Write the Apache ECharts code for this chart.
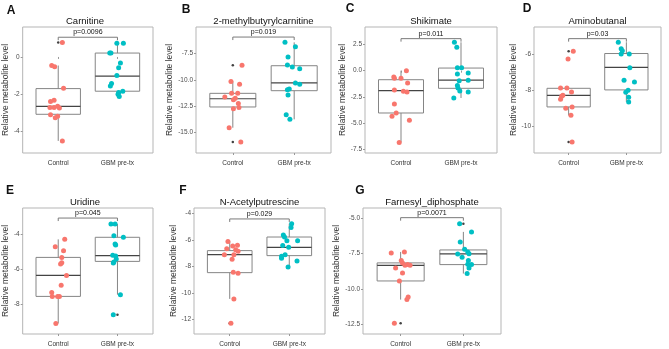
<!DOCTYPE html>
<html lang="en">
<head>
    <title>Relative metabolite levels</title>
    <meta charset="utf-8" />
    <script src="https://cdn.jsdelivr.net/npm/echarts@6/dist/echarts.min.js"></script>
    <style>
        body {
            margin: 0;
            background-color: #ffffff;
        }

        #main {
            width: 669px;
            height: 349px;
        }
    </style>
</head>
<body>
<div id="main"></div>
<script type="text/javascript">
    // data, one entry per panel (A..G)
    let groups = ['Control', 'GBM pre-tx']
    let letters = ['A', 'B', 'C', 'D', 'E', 'F', 'G']
    let titles = ['Carnitine', '2-methylbutyrylcarnitine', 'Shikimate', 'Aminobutanal',
        'Uridine', 'N-Acetylputrescine', 'Farnesyl_diphosphate']
    let pLabels = ['p=0.0096', 'p=0.019', 'p=0.011', 'p=0.03', 'p=0.045', 'p=0.029', 'p=0.0071']
    let bracketLevel = [1.06, -5.96, 3.05, -5.11, -3.04, -4.40, -4.98]

    let yTicks = [
        [0, -2, -4],
        [-7.5, -10, -12.5, -15],
        [2.5, 0, -2.5, -5, -7.5],
        [-6, -8, -10],
        [-4, -6, -8],
        [-4, -6, -8, -10, -12],
        [-5, -7.5, -10, -12.5]
    ]
    let yDecimals = [0, 1, 1, 0, 0, 0, 1]
    let yMin = [-5.16, -16.92, -7.84, -11.49, -9.73, -13.12, -13.16]
    let yMax = [1.61, -5.01, 4.16, -4.46, -2.46, -3.57, -4.30]

    let ctrlValues = [
        [0.78, -0.46, -0.53, -1.68, -2.39, -2.32, -2.71, -2.71, -2.65, -2.74, -3.10, -3.19, -3.27, -4.51],
        [-8.63, -10.15, -10.43, -11.28, -11.28, -11.63, -11.75, -11.88, -12.23, -12.61, -12.73, -14.53, -15.88],
        [0.0, -0.60, -0.73, -0.73, -1.17, -1.84, -1.97, -2.03, -3.17, -4.03, -4.35, -4.73, -6.83],
        [-5.81, -6.24, -7.86, -7.86, -8.08, -8.27, -8.33, -8.49, -9.00, -8.92, -9.39, -10.87],
        [-4.27, -4.69, -4.92, -5.31, -5.62, -5.69, -6.35, -6.92, -7.33, -7.56, -7.56, -7.56, -9.12],
        [-6.10, -6.45, -6.40, -6.65, -6.73, -6.85, -7.11, -7.11, -7.46, -8.44, -8.52, -10.46, -12.31],
        [-7.46, -7.39, -8.00, -8.16, -8.28, -8.33, -8.33, -8.52, -8.87, -9.43, -10.55, -10.74, -12.41]
    ]
    let ctrlJitter = [
        [0.07, -0.11, -0.06, 0.09, -0.13, -0.07, -0.14, -0.07, -0.01, 0.02, -0.13, -0.01, -0.05, 0.07],
        [0.15, -0.03, 0.11, -0.02, 0.08, -0.13, 0.04, 0.01, 0.09, 0.10, 0.01, -0.06, 0.13],
        [0.09, -0.12, -0.11, 0.00, 0.11, -0.11, 0.04, 0.10, -0.11, -0.08, -0.15, 0.14, -0.03],
        [0.08, -0.01, -0.14, -0.03, 0.05, -0.10, -0.12, -0.14, -0.05, 0.06, 0.04, 0.06],
        [0.11, -0.05, 0.09, 0.06, 0.06, 0.04, 0.14, 0.05, -0.11, -0.10, -0.01, 0.02, -0.04],
        [-0.03, 0.05, 0.13, -0.05, 0.10, 0.14, -0.09, 0.07, 0.04, 0.06, 0.14, 0.07, 0.02],
        [-0.15, 0.06, 0.01, 0.03, 0.11, 0.07, 0.15, -0.08, 0.03, -0.02, 0.12, 0.10, -0.10]
    ]
    let gbmValues = [
        [0.74, 0.74, 0.21, 0.21, -0.32, -0.58, -0.99, -1.43, -1.56, -1.84, -1.91, -2.00, -2.12],
        [-6.46, -6.87, -7.85, -8.60, -8.79, -8.95, -10.30, -10.43, -10.94, -10.87, -11.44, -13.30, -13.74],
        [2.70, 2.22, 0.29, 0.29, -0.32, -0.22, -0.95, -0.92, -1.40, -1.65, -1.94, -2.03, -2.60],
        [-5.31, -5.68, -5.78, -5.96, -5.96, -6.73, -7.43, -7.53, -7.99, -8.10, -8.38, -8.64],
        [-3.38, -3.38, -4.06, -4.15, -4.54, -4.60, -5.19, -5.23, -5.40, -5.58, -5.63, -7.46, -8.62],
        [-4.76, -5.04, -5.62, -5.77, -6.05, -6.05, -6.42, -6.55, -7.11, -7.23, -7.38, -7.59, -8.04],
        [-5.40, -5.98, -6.69, -7.20, -7.39, -7.53, -7.51, -7.77, -8.00, -8.26, -8.28, -8.52, -8.91]
    ]
    let gbmJitter = [
        [-0.01, 0.10, -0.13, -0.11, 0.05, 0.02, -0.01, -0.10, -0.12, 0.09, 0.02, 0.01, 0.03],
        [-0.15, 0.02, -0.10, -0.11, -0.03, 0.09, 0.02, 0.09, -0.11, -0.08, -0.10, -0.13, -0.07],
        [-0.11, -0.07, -0.06, 0.01, -0.06, 0.12, -0.03, 0.12, -0.06, -0.05, -0.02, 0.12, -0.12],
        [-0.14, -0.09, -0.07, -0.09, 0.05, 0.06, -0.04, 0.14, 0.03, -0.01, 0.04, 0.04],
        [-0.11, -0.04, -0.06, 0.10, -0.04, -0.03, -0.08, -0.03, -0.02, -0.06, -0.07, 0.05, -0.07],
        [0.04, 0.03, -0.10, -0.08, -0.04, 0.14, -0.11, -0.01, -0.07, -0.13, -0.13, 0.13, -0.02],
        [-0.06, 0.13, -0.05, 0.02, 0.07, -0.09, 0.09, -0.02, 0.08, 0.07, 0.13, 0.09, 0.06]
    ]

    // box stats: [lower whisker, Q1, median, Q3, upper whisker]
    let ctrlBox = [
        [-4.51, -3.08, -2.65, -1.70, -0.46],
        [-14.53, -12.57, -11.79, -11.28, -10.15],
        [-6.83, -4.03, -1.90, -0.86, 0.0],
        [-9.39, -8.92, -8.27, -7.88, -7.86],
        [-9.12, -7.56, -6.35, -5.31, -4.27],
        [-10.46, -8.47, -7.11, -6.80, -6.10],
        [-10.74, -9.43, -8.33, -8.16, -7.39]
    ]
    let gbmBox = [
        [-2.12, -1.84, -1.03, 0.21, 0.74],
        [-13.74, -11.03, -10.30, -8.67, -6.46],
        [-2.60, -1.68, -0.89, 0.25, 2.70],
        [-8.64, -7.97, -6.71, -5.94, -5.31],
        [-7.46, -5.54, -5.21, -4.15, -3.38],
        [-8.04, -7.18, -6.55, -5.77, -4.76],
        [-8.91, -8.28, -7.53, -7.25, -5.98]
    ]
    // boxplot outliers: [group (1 or 2), value]
    let outliers = [
        [[1, 0.78]],
        [[1, -8.63], [1, -15.88]],
        [],
        [[1, -5.81], [1, -10.87]],
        [[2, -8.62]],
        [[1, -12.31]],
        [[1, -12.41], [2, -5.40]]
    ]

    // layout (pixels)
    let panels = [
        {left: 17, top: 27, right: 153, bottom: 153, gap: 6, letter: [11, 11]},
        {left: 196, top: 27, right: 331, bottom: 153, gap: 14, letter: [186, 10]},
        {left: 365, top: 27, right: 497, bottom: 153, gap: 13, letter: [350, 9]},
        {left: 534, top: 27, right: 661, bottom: 153, gap: 12, letter: [527, 9]},
        {left: 17, top: 208, right: 153, bottom: 334, gap: 6, letter: [10, 191]},
        {left: 194, top: 208, right: 325, bottom: 334, gap: 12, letter: [183, 191]},
        {left: 363, top: 208, right: 501, bottom: 334, gap: 11, letter: [360, 191]}
    ]

    let colorCtrl = '#F8766D'
    let colorGbm = '#00BFC4'
    let colorBox = '#858585'
    let colorMedian = '#444444'
    let fontName = 'Liberation Sans'

    function renderBox(params, api) {
        let x = api.value(0)
        let lo = api.coord([x, api.value(1)])
        let q1 = api.coord([x, api.value(2)])
        let med = api.coord([x, api.value(3)])
        let q3 = api.coord([x, api.value(4)])
        let hi = api.coord([x, api.value(5)])
        let xl = api.coord([x - 0.375, api.value(3)])[0]
        let xr = api.coord([x + 0.375, api.value(3)])[0]
        let st = {stroke: colorBox, lineWidth: 1, fill: null}
        return {
            type: 'group',
            children: [
                {type: 'line', shape: {x1: lo[0], y1: lo[1], x2: q1[0], y2: q1[1]}, style: st},
                {type: 'line', shape: {x1: q3[0], y1: q3[1], x2: hi[0], y2: hi[1]}, style: st},
                {type: 'rect', shape: {x: xl, y: q3[1], width: xr - xl, height: q1[1] - q3[1]},
                    style: {stroke: colorBox, lineWidth: 1, fill: 'rgba(255,255,255,0)'}},
                {type: 'line', shape: {x1: xl, y1: med[1], x2: xr, y2: med[1]},
                    style: {stroke: colorMedian, lineWidth: 1.2}}
            ]
        }
    }

    function makeBracket(label) {
        return function (params, api) {
            let a = api.coord([api.value(0), api.value(2)])
            let b = api.coord([api.value(1), api.value(2)])
            return {
                type: 'group',
                children: [
                    {type: 'polyline', shape: {points: [[a[0], a[1] + 3], a, b, [b[0], b[1] + 3]]},
                        style: {stroke: '#7a7a7a', lineWidth: 1, fill: null}},
                    {type: 'text', x: (a[0] + b[0]) / 2, y: a[1] - 1.5,
                        style: {text: label, fill: '#111', fontSize: 7, fontFamily: fontName,
                            align: 'center', verticalAlign: 'bottom'}}
                ]
            }
        }
    }

    let grids = []
    let xAxes = []
    let yAxes = []
    let series = []
    let graphics = []

    for (let i = 0; i < panels.length; i++) {
        let p = panels[i]
        grids.push({
            left: p.left, top: p.top, width: p.right - p.left, height: p.bottom - p.top,
            show: true, borderColor: '#b5b5b5', borderWidth: 1, backgroundColor: 'transparent'
        })
        xAxes.push({
            gridIndex: i, type: 'value', min: 0.4, max: 2.6,
            axisLine: {show: false}, splitLine: {show: false},
            axisTick: {show: true, customValues: [1, 2], length: 2, lineStyle: {color: '#999'}},
            axisLabel: {
                customValues: [1, 2], margin: 7, fontSize: 6.5, color: '#333', fontFamily: fontName,
                formatter: function (v) { return groups[Math.round(v) - 1] }
            }
        })
        let dec = yDecimals[i]
        yAxes.push({
            gridIndex: i, type: 'value', min: yMin[i], max: yMax[i],
            axisLine: {show: false}, splitLine: {show: false},
            axisTick: {show: true, customValues: yTicks[i], length: 2, lineStyle: {color: '#999'}},
            axisLabel: {
                customValues: yTicks[i], margin: 3, fontSize: 6.5, color: '#4d4d4d', fontFamily: fontName,
                formatter: function (v) { return v.toFixed(dec) }
            },
            name: 'Relative metabolite level', nameLocation: 'middle', nameGap: p.gap,
            nameTextStyle: {fontSize: 8.5, color: '#333', fontFamily: fontName}
        })

        series.push({
            type: 'custom', xAxisIndex: i, yAxisIndex: i, renderItem: renderBox, silent: true,
            encode: {x: 0, y: [1, 2, 3, 4, 5]},
            data: [[1].concat(ctrlBox[i]), [2].concat(gbmBox[i])], z: 1
        })
        series.push({
            type: 'custom', xAxisIndex: i, yAxisIndex: i, silent: true, z: 1,
            renderItem: makeBracket(pLabels[i]),
            encode: {x: [0, 1], y: 2},
            data: [[1, 2, bracketLevel[i]]]
        })
        series.push({
            type: 'scatter', xAxisIndex: i, yAxisIndex: i, symbolSize: 2.5, z: 2, silent: true,
            itemStyle: {color: '#111'},
            data: outliers[i]
        })
        series.push({
            type: 'scatter', xAxisIndex: i, yAxisIndex: i, symbolSize: 5, z: 3, silent: true,
            itemStyle: {color: colorCtrl, opacity: 1},
            data: ctrlValues[i].map(function (v, k) { return [1 + ctrlJitter[i][k], v] })
        })
        series.push({
            type: 'scatter', xAxisIndex: i, yAxisIndex: i, symbolSize: 5, z: 3, silent: true,
            itemStyle: {color: colorGbm, opacity: 1},
            data: gbmValues[i].map(function (v, k) { return [2 + gbmJitter[i][k], v] })
        })

        graphics.push({
            type: 'text', x: (p.left + p.right) / 2, y: p.top - 6,
            style: {text: titles[i], fontSize: 9.5, fontFamily: fontName, fill: '#111',
                align: 'center', verticalAlign: 'middle'}
        })
        graphics.push({
            type: 'text', x: p.letter[0], y: p.letter[1],
            style: {text: letters[i], fontSize: 12, fontWeight: 'bold', fontFamily: fontName, fill: '#111',
                align: 'center', verticalAlign: 'middle'}
        })
    }

    let myChart = echarts.init(document.getElementById('main'), null, {renderer: 'canvas'})
    myChart.setOption({
        animation: false,
        backgroundColor: '#ffffff',
        grid: grids,
        xAxis: xAxes,
        yAxis: yAxes,
        series: series,
        graphic: graphics
    })
</script>
</body>
</html>
